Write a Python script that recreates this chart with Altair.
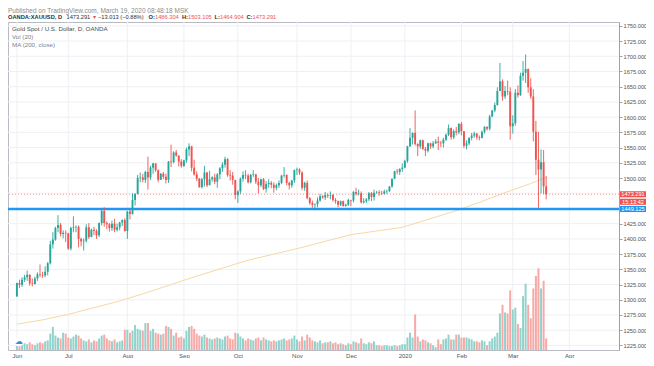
import altair as alt
import pandas as pd

# ---------------- data ----------------
# daily closes, highs, lows: Jun 3 2019 .. Mar 19 2020 (trading days)
close = [
    # Jun 2019
    1327.5, 1324.5, 1333, 1337, 1341, 1327, 1326, 1335, 1342, 1341, 1340, 1346, 1360, 1391, 1399, 1418, 1423, 1408, 1410, 1409,
    # Jul
    1384, 1418, 1419, 1420, 1400, 1396, 1397, 1419, 1403, 1415, 1413, 1406, 1426, 1446, 1426, 1424, 1418, 1425, 1415, 1419, 1427, 1431, 1413,
    # Aug
    1445, 1441, 1464, 1474, 1500, 1501, 1497, 1510, 1501, 1517, 1524, 1513, 1497, 1507, 1502, 1497, 1527, 1526, 1542, 1537, 1527, 1520,
    # Sep
    1529, 1547, 1552, 1517, 1506, 1499, 1485, 1498, 1509, 1488, 1498, 1501, 1494, 1506, 1516, 1522, 1531, 1505, 1504, 1497, 1472,
    # Oct
    1478, 1499, 1505, 1504, 1493, 1505, 1506, 1494, 1488, 1498, 1482, 1490, 1492, 1489, 1484, 1488, 1492, 1504, 1505, 1492, 1488, 1496, 1513,
    # Nov
    1514, 1509, 1484, 1492, 1467, 1459, 1456, 1457, 1463, 1470, 1468, 1472, 1471, 1472, 1464, 1462, 1456, 1462, 1454, 1456, 1464,
    # Dec
    1463, 1477, 1474, 1475, 1460, 1462, 1465, 1475, 1469, 1476, 1476.5, 1475, 1474.5, 1478, 1478.6, 1486, 1499, 1511, 1510, 1515, 1517,
    # Jan 2020
    1528, 1552, 1566, 1574, 1556, 1552, 1562, 1548, 1545, 1557, 1552, 1557, 1560, 1558, 1557, 1563, 1571, 1582, 1567, 1577, 1575, 1589,
    # Feb
    1577, 1553, 1557, 1566, 1570, 1573, 1567, 1566, 1576, 1584, 1581, 1601, 1611, 1620, 1643, 1659, 1634, 1643, 1642, 1585,
    # Mar
    1590, 1640, 1636, 1668, 1673, 1679, 1649, 1634, 1576, 1530, 1514, 1526, 1486.304, 1473.291,
]
high = [
    1328, 1333, 1337, 1341, 1348, 1342, 1335, 1338, 1345, 1358, 1346, 1355, 1362, 1397, 1411, 1420, 1439, 1426, 1414, 1414,
    1410, 1420, 1437, 1422, 1422, 1402, 1401, 1424, 1426, 1417, 1420, 1416, 1427, 1448, 1452, 1429, 1426, 1430, 1433, 1425, 1428, 1432, 1434,
    1446, 1449, 1475, 1475, 1505, 1509, 1507, 1512, 1535, 1520, 1525, 1524, 1514, 1508, 1510, 1507, 1528, 1555, 1544, 1546, 1537, 1531,
    1530, 1550, 1557, 1553, 1530, 1511, 1500, 1500, 1520, 1510, 1512, 1503, 1507, 1508, 1518, 1526, 1535, 1533, 1513, 1510, 1497,
    1480, 1501, 1511, 1513, 1507, 1507, 1513, 1507, 1500, 1499, 1500, 1495, 1498, 1495, 1493, 1491, 1496, 1505, 1518, 1506, 1494, 1497, 1514,
    1517, 1516, 1511, 1494, 1496, 1469, 1463, 1458, 1468, 1474, 1472, 1477, 1475, 1478, 1474, 1467, 1463, 1463, 1463, 1458, 1466,
    1464, 1479, 1484, 1481, 1478, 1467, 1467, 1477, 1477, 1481, 1479, 1480, 1479, 1481, 1481, 1487, 1499, 1512, 1515, 1516, 1524,
    1530, 1553, 1582, 1575, 1611, 1557, 1563, 1563, 1551, 1558, 1558, 1561, 1564, 1568, 1561, 1566, 1573, 1588, 1583, 1580, 1584, 1590,
    1592, 1577, 1562, 1567, 1574, 1576, 1574, 1570, 1578, 1585, 1585, 1604, 1612, 1624, 1649, 1689, 1662, 1651, 1660, 1649,
    1603, 1646, 1652, 1673, 1692, 1703, 1680, 1664, 1646, 1594, 1576, 1547, 1546, 1503.105,
]
low = [
    1305, 1319, 1321, 1329, 1331, 1323, 1322, 1325, 1331, 1337, 1336, 1337, 1340, 1358, 1384, 1397, 1411, 1404, 1401, 1395,
    1382, 1381, 1411, 1411, 1386, 1388, 1381, 1394, 1400, 1403, 1406, 1400, 1403, 1422, 1420, 1416, 1412, 1413, 1411, 1412, 1414, 1421, 1412,
    1400, 1432, 1440, 1455, 1473, 1493, 1493, 1492, 1481, 1497, 1507, 1510, 1493, 1497, 1498, 1491, 1492, 1518, 1524, 1535, 1519, 1517,
    1518, 1525, 1536, 1511, 1504, 1495, 1484, 1483, 1486, 1485, 1492, 1494, 1490, 1484, 1498, 1510, 1517, 1502, 1496, 1489, 1465,
    1459, 1474, 1494, 1498, 1491, 1491, 1502, 1490, 1475, 1485, 1480, 1476, 1484, 1483, 1476, 1480, 1484, 1490, 1501, 1488, 1481, 1484, 1492,
    1505, 1505, 1480, 1479, 1465, 1456, 1451, 1447, 1452, 1461, 1466, 1464, 1467, 1465, 1461, 1458, 1452, 1454, 1453, 1453, 1454,
    1454, 1460, 1471, 1471, 1458, 1458, 1459, 1462, 1462, 1463, 1474, 1471, 1472, 1473, 1474, 1477, 1484, 1498, 1506, 1505, 1510,
    1516, 1525, 1551, 1555, 1553, 1536, 1548, 1546, 1536, 1542, 1548, 1549, 1556, 1546, 1551, 1550, 1561, 1569, 1563, 1564, 1570, 1572,
    1570, 1549, 1547, 1554, 1562, 1566, 1563, 1562, 1565, 1573, 1578, 1578, 1600, 1608, 1619, 1643, 1627, 1630, 1636, 1563,
    1573, 1586, 1632, 1635, 1660, 1656, 1640, 1630, 1560, 1505, 1451, 1475, 1474, 1464.904,
]
first_open = 1305.5

# volume (thousands)
volume_k = [
    6, 5, 6, 7, 6, 8, 6, 5, 7, 8, 7, 9, 10, 17, 24, 15, 13, 12, 18, 17,
    13, 12, 14, 16, 15, 12, 10, 9, 11, 8, 10, 9, 12, 15, 16, 12, 10, 9, 11, 8, 9, 10, 21,
    21, 18, 20, 26, 22, 21, 20, 28, 28, 20, 22, 18, 17, 16, 17, 25, 24, 22, 15, 18, 13, 14,
    12, 20, 24, 25, 22, 17, 15, 14, 16, 13, 12, 11, 12, 13, 12, 11, 14, 15, 12, 11, 18,
    17, 14, 12, 10, 12, 11, 10, 12, 13, 10, 13, 11, 10, 9, 10, 9, 10, 11, 12, 10, 11, 12, 15,
    11, 9, 14, 10, 16, 13, 10, 9, 8, 10, 7, 8, 8, 9, 7, 8, 6, 7, 6, 5, 7,
    6, 9, 8, 7, 12, 7, 6, 8, 7, 9, 5, 5, 4, 5, 5, 4, 4, 5, 4, 5, 6,
    6, 13, 18, 13, 37, 14, 9, 11, 10, 8, 7, 5, 3, 11, 6, 11, 12, 16, 11, 11, 16, 16,
    13, 13, 13, 12, 11, 9, 9, 8, 10, 9, 5, 9, 12, 14, 18, 38, 47, 39, 38, 62,
    42, 44, 27, 23, 56, 69, 47, 33, 64, 77, 85, 64, 72, 12,
]

# 200-day moving average, read at every 10th bar
ma_bar = [0, 10, 20, 30, 40, 50, 60, 70, 80, 90, 100, 110, 120, 130, 140, 150, 160, 170, 180, 190, 200, 206]
ma_val = [1260, 1267, 1276, 1287, 1298, 1311, 1325, 1339, 1352, 1365, 1375, 1385, 1396, 1407, 1413, 1419,
          1432, 1445, 1460, 1476, 1491, 1501]

month_labels = ["Jun", "Jul", "Aug", "Sep", "Oct", "Nov", "Dec", "2020", "Feb", "Mar", "Apr"]
month_start = [0, 20, 43, 65, 86, 109, 130, 151, 173, 193, 215]

price_grid = list(range(1225, 1751, 25))
price_labels = [p for p in price_grid if p not in (1450, 1475)]

support_level = 1449.125
last_price = 1473.291

# ---------------- frames ----------------
opens = [first_open] + close[:-1]
GREEN, RED = "#26a69a", "#ef5350"
df = pd.DataFrame({
    "i": list(range(len(close))),
    "open": opens, "high": high, "low": low, "close": close, "vol": volume_k,
})
df["ccol"] = [GREEN if c >= o else RED for o, c in zip(opens, close)]
df["vcol"] = ["#92d2cc" if c >= o else "#f7a9a7" for o, c in zip(opens, close)]

ma_df = pd.DataFrame({"i": ma_bar, "ma": ma_val})

W, H = 611, 328
FONT = "Liberation Sans"

xscale = alt.Scale(domain=[-1.514, 232.4], nice=False, zero=False)
pscale = alt.Scale(domain=[1217.5, 1756.3], nice=False, zero=False)

label_expr = " : ".join(f"datum.value == {v} ? '{l}'" for v, l in zip(month_start, month_labels)) + " : ''"
xaxis = alt.Axis(values=month_start, labelExpr=label_expr, grid=False, ticks=False, domain=False,
                 labelFontSize=6, labelColor="#50535e", labelPadding=2, labelFlush=False,
                 labelFont=FONT, title=None)
yaxis = alt.Axis(orient="right", values=price_labels, format=".3f", grid=False,
                 domain=True, domainColor="#9ea1a8", ticks=True, tickSize=3, tickColor="#9ea1a8",
                 labelPadding=1, labelFontSize=5.7, labelColor="#50535e", labelFont=FONT, title=None)

X = alt.X("i:Q", scale=xscale, axis=xaxis)

grid_h = alt.Chart(pd.DataFrame({"p": price_grid})).mark_rule(color="#eef0f4", strokeWidth=1).encode(
    y=alt.Y("p:Q", scale=pscale, axis=None))
grid_v = alt.Chart(pd.DataFrame({"i": month_start})).mark_rule(color="#eef0f4", strokeWidth=1).encode(x=X)

vol = alt.Chart(df).mark_bar(size=2.0).encode(
    x=X, y=alt.Y("vol:Q", scale=alt.Scale(domain=[0, 341]), axis=None),
    color=alt.Color("vcol:N", scale=None))

ma = alt.Chart(ma_df).mark_line(color="#f9d7a3", strokeWidth=1).encode(
    x=X, y=alt.Y("ma:Q", scale=pscale, axis=None))

support = alt.Chart(pd.DataFrame({"p": [support_level]})).mark_rule(color="#2196f3", strokeWidth=2.5).encode(
    y=alt.Y("p:Q", scale=pscale, axis=None))
lastline = alt.Chart(pd.DataFrame({"p": [last_price]})).mark_rule(color="#f4a3a1", strokeWidth=1, strokeDash=[1, 2]).encode(
    y=alt.Y("p:Q", scale=pscale, axis=None))

wicks = alt.Chart(df).mark_rule(strokeWidth=0.9).encode(
    x=X, y=alt.Y("low:Q", scale=pscale, axis=yaxis), y2="high:Q",
    color=alt.Color("ccol:N", scale=None))
bodies = alt.Chart(df).mark_bar(size=1.9).encode(
    x=X, y=alt.Y("open:Q", scale=pscale, axis=None), y2="close:Q",
    color=alt.Color("ccol:N", scale=None))

# price tags on the axis
tags = pd.DataFrame({
    "p": [last_price, 1461.0, support_level],
    "t": ["1473.291", "15:13:42", "1449.125"],
    "c": [RED, RED, "#2196f3"],
})
tags["top"] = tags["p"] + 5.0
tags["bot"] = tags["p"] - 5.0
tag_box = alt.Chart(tags).mark_rect().encode(
    x=alt.value(W + 1), x2=alt.value(W + 27),
    y=alt.Y("top:Q", scale=pscale, axis=None), y2="bot:Q",
    color=alt.Color("c:N", scale=None))
tag_txt = alt.Chart(tags).mark_text(color="white", fontSize=5.6, font=FONT, align="center", baseline="middle").encode(
    x=alt.value(W + 14), y=alt.Y("p:Q", scale=pscale, axis=None), text="t:N")

# TradingView logo badge in the volume pane
logo_bg = alt.Chart(pd.DataFrame({"lx": [10.9], "ly": [319]})).mark_point(
    filled=True, shape="circle", size=110, color="white", opacity=1).encode(
    x=alt.X("lx:Q", scale=None), y=alt.Y("ly:Q", scale=None))
logo_fg = alt.Chart(pd.DataFrame({"lx": [10.9], "ly": [319.5], "t": ["☁"]})).mark_text(
    font="DejaVu Sans", fontSize=8, color="#2f8fe0", align="center", baseline="middle").encode(
    x=alt.X("lx:Q", scale=None), y=alt.Y("ly:Q", scale=None), text="t:N")

# header and legend texts
hdr_norm = pd.DataFrame({
    "t": ["Published on TradingView.com, March 19, 2020 08:48:18 MSK",
          "1473.291", "▼", "−13.013 (−0.88%)", "1486.304", "1503.105", "1464.904", "1473.291",
          "Gold Spot / U.S. Dollar, D, OANDA", "Vol (20)", "MA (200, close)"],
    "px": [0, 58.5, 84, 90, 147, 180, 212, 244.5, 4, 4, 4],
    "py": [-11.5, -4.8, -4.8, -4.8, -4.8, -4.8, -4.8, -4.8, 7, 15, 22.5],
    "col": ["#8d8d8d", "#2a2e39", RED, "#2a2e39", RED, RED, RED, RED, "#4b4b4b", "#7b7f8e", "#7b7f8e"],
    "fs": [6.5, 5.7, 5.2, 5.7, 5.7, 5.7, 5.7, 5.7, 6.2, 6.2, 6.2],
})
hdr_bold = pd.DataFrame({
    "t": ["OANDA:XAUUSD, D", "O:", "H:", "L:", "C:"],
    "px": [0, 140.5, 174, 206.5, 238.5],
    "py": [-4.8] * 5,
})
txt_norm = alt.Chart(hdr_norm).mark_text(align="left", baseline="middle", font=FONT).encode(
    x=alt.X("px:Q", scale=None), y=alt.Y("py:Q", scale=None), text="t:N",
    color=alt.Color("col:N", scale=None), size=alt.Size("fs:Q", scale=None))
txt_bold = alt.Chart(hdr_bold).mark_text(align="left", baseline="middle", font=FONT, fontWeight="bold",
                                         fontSize=5.7, color="#2a2e39").encode(
    x=alt.X("px:Q", scale=None), y=alt.Y("py:Q", scale=None), text="t:N")

chart = alt.layer(
    grid_h, grid_v, vol, ma, lastline, support, wicks, bodies, tag_box, tag_txt,
    logo_bg, logo_fg, txt_norm, txt_bold
).resolve_scale(y="independent").properties(
    width=W, height=H,
    autosize=alt.AutoSizeParams(type="none"),
    padding={"left": 0, "top": 14, "right": 27, "bottom": 8},
    background="white",
).configure_view(stroke="#b8bbc2", strokeWidth=1)

chart.save("out.html", embed_options={"renderer": "svg", "actions": False})
